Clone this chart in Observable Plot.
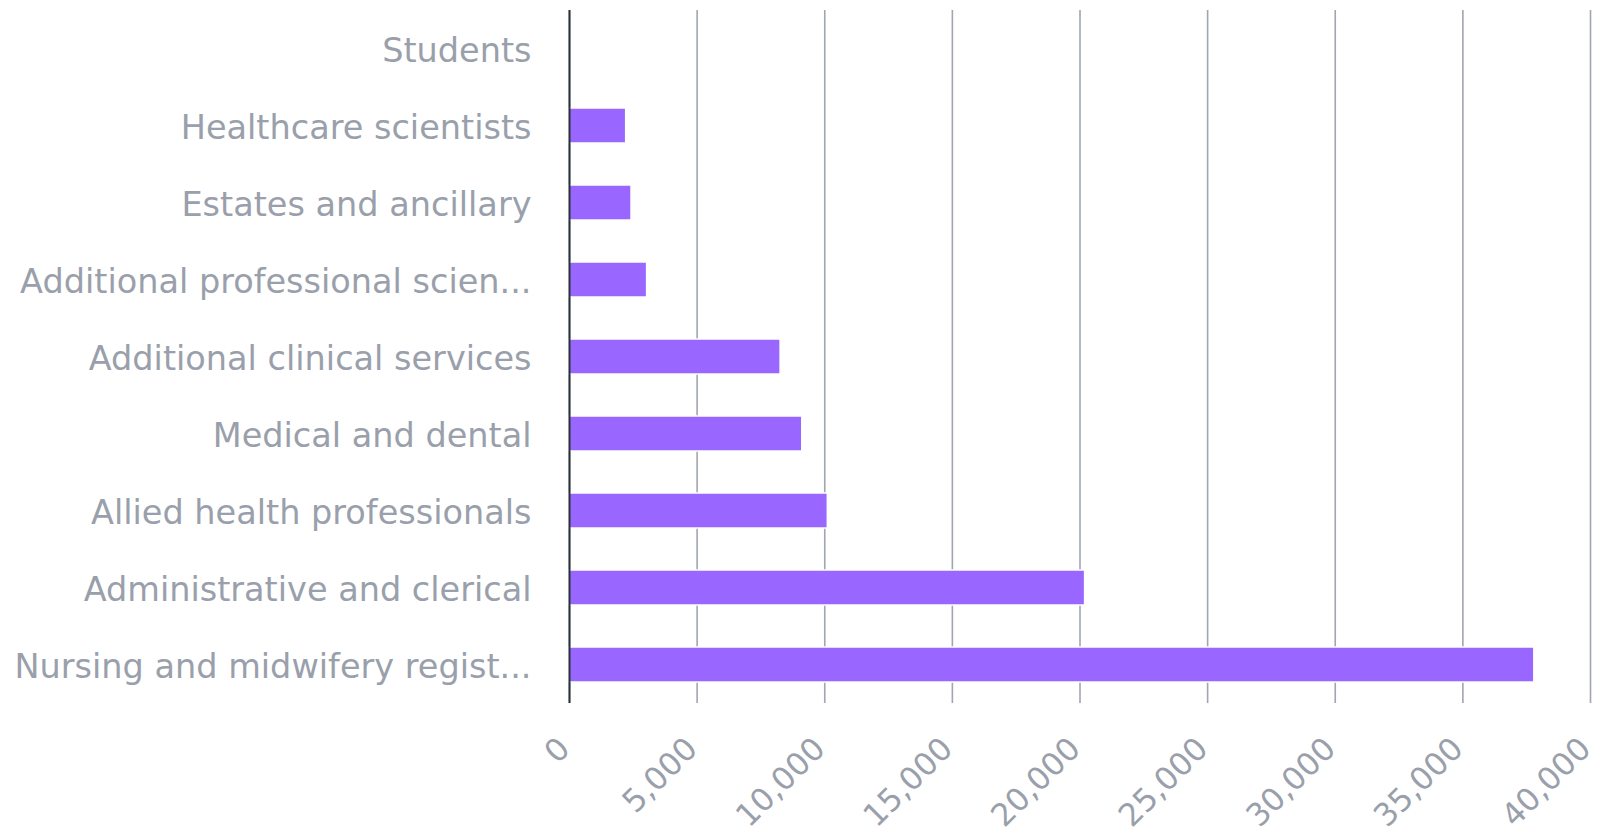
<!DOCTYPE html>
<html>
<head>
<meta charset="utf-8">
<script src="https://cdn.jsdelivr.net/npm/d3@7"></script>
<script src="https://cdn.jsdelivr.net/npm/@observablehq/plot@0.6"></script>
<style>
  html, body { margin: 0; padding: 0; background: #fff; }
  #chart svg { display: block; }
</style>
</head>
<body>
<div id="chart"></div>
<script>
// Staff group headcounts, listed top to bottom
const categories = [
  "Students",
  "Healthcare scientists",
  "Estates and ancillary",
  "Additional professional scientific and technical",
  "Additional clinical services",
  "Medical and dental",
  "Allied health professionals",
  "Administrative and clerical",
  "Nursing and midwifery registered"
];
const values = [0, 2220, 2430, 3040, 8270, 9120, 10120, 20200, 37800];
// Shortened labels shown beside each bar
const tickLabels = [
  "Students",
  "Healthcare scientists",
  "Estates and ancillary",
  "Additional professional scien...",
  "Additional clinical services",
  "Medical and dental",
  "Allied health professionals",
  "Administrative and clerical",
  "Nursing and midwifery regist..."
];
const xTicks = [0, 5000, 10000, 15000, 20000, 25000, 30000, 35000, 40000];

const data = categories.map((c, i) => ({category: c, value: values[i]}));
const labelOf = new Map(categories.map((c, i) => [c, tickLabels[i]]));

const textColor = "#9aa0ab";

const chart = Plot.plot({
  width: 1601,
  height: 836,
  marginLeft: 569,
  marginRight: 11,
  marginTop: 10,
  marginBottom: 133,
  style: {fontFamily: "'DejaVu Sans', sans-serif", background: "#fff"},
  x: {domain: [0, 40000], label: null},
  y: {domain: categories, paddingInner: 0.55, paddingOuter: 0.275, label: null},
  marks: [
    Plot.gridX(xTicks, {stroke: "#a0a5b0", strokeOpacity: 1, strokeWidth: 1.6}),
    Plot.barX(data, {x: "value", y: "category", fill: "#9966ff", stroke: "#fff", strokeWidth: 1.5}),
    Plot.ruleX([0], {stroke: "#27323b", strokeWidth: 2}),
    Plot.axisY({
      tickSize: 0,
      tickPadding: 38,
      fontSize: 33.5,
      dy: 2,
      fill: textColor,
      tickFormat: d => labelOf.get(d)
    }),
    Plot.axisX(xTicks, {
      tickSize: 0,
      tickPadding: 40,
      tickRotate: -45,
      dx: -5,
      fontSize: 31.5,
      fill: textColor,
      tickFormat: d3.format(","),
      label: null
    })
  ]
});

document.getElementById("chart").append(chart);
</script>
</body>
</html>
